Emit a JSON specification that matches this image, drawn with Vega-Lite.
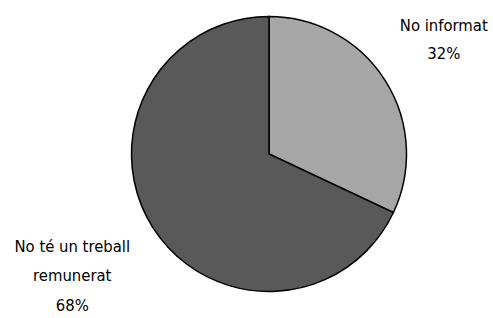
{
  "$schema": "https://vega.github.io/schema/vega-lite/v6.json",
  "autosize": {"type": "none"},
  "padding": {"left": 45, "top": 0, "right": 0, "bottom": 10},
  "width": 448,
  "height": 308,
  "background": "white",
  "config": {"view": {"stroke": null}, "text": {"font": "DejaVu Sans Condensed"}},
  "data": {
    "values": [
      {"cat": "No informat", "name": "No informat", "pct": 32, "ord": 1},
      {"cat": "No té un treball remunerat", "name": "No té un treball|remunerat", "pct": 68, "ord": 2}
    ]
  },
  "transform": [
    {"calculate": "datum.name + '|' + datum.pct + '%'", "as": "label"},
    {"stack": "pct", "groupby": [], "sort": [{"field": "ord", "order": "ascending"}], "as": ["t0", "t1"]},
    {"calculate": "(datum.t0 + datum.t1) / 2", "as": "tmid"}
  ],
  "layer": [
    {
      "mark": {"type": "arc", "outerRadius": 137.5, "stroke": "black", "strokeWidth": 1.5},
      "encoding": {
        "theta": {"field": "t0", "type": "quantitative", "scale": {"domain": [0, 100]}},
        "theta2": {"field": "t1"},
        "color": {
          "field": "cat",
          "type": "nominal",
          "scale": {"domain": ["No informat", "No té un treball remunerat"], "range": ["#a6a6a6", "#595959"]},
          "legend": null
        }
      }
    },
    {
      "transform": [{"filter": "datum.ord == 1"}],
      "mark": {"type": "text", "radius": 207, "dy": -17, "fontSize": 16.5, "lineHeight": 28, "lineBreak": "|", "align": "center", "baseline": "middle", "color": "black"},
      "encoding": {
        "theta": {"field": "tmid", "type": "quantitative", "scale": {"domain": [0, 100]}},
        "text": {"field": "label"}
      }
    },
    {
      "transform": [{"filter": "datum.ord == 2"}],
      "mark": {"type": "text", "radius": 233, "dy": -32, "fontSize": 16.5, "lineHeight": 29.5, "lineBreak": "|", "align": "center", "baseline": "middle", "color": "black"},
      "encoding": {
        "theta": {"field": "tmid", "type": "quantitative", "scale": {"domain": [0, 100]}},
        "text": {"field": "label"}
      }
    }
  ]
}
